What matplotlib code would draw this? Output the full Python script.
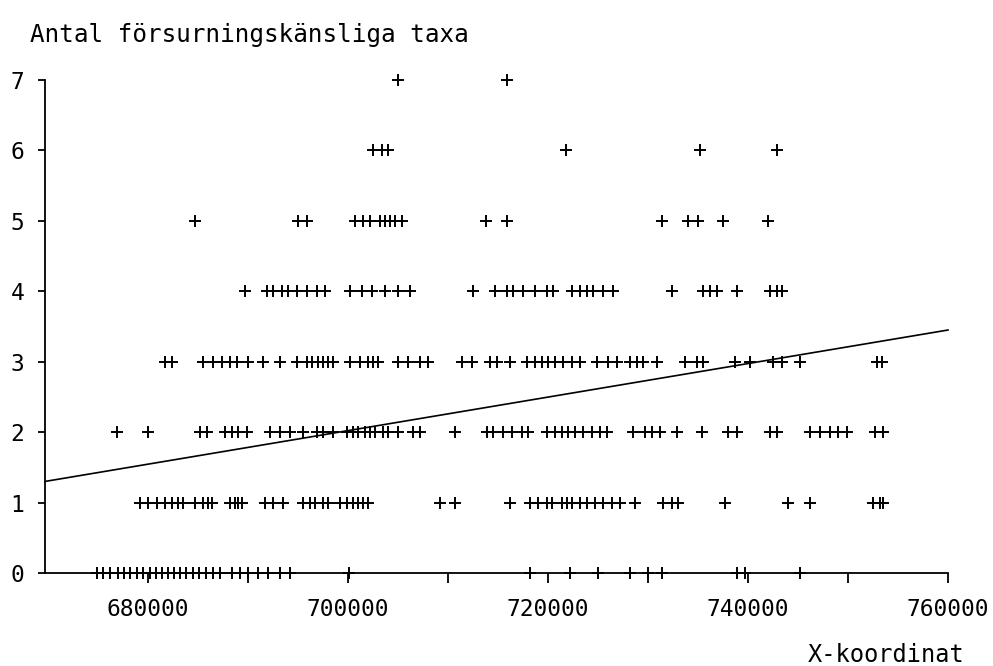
import matplotlib
matplotlib.use("Agg")
import matplotlib.pyplot as plt
import numpy as np

# Data: x-coordinates of sites for each count of acid-sensitive taxa
row0 = [674900, 675500, 676200, 677000, 677600, 678200, 678900, 679500, 680200, 680800,
        681400, 682000, 682600, 683200, 683800, 684500, 685100, 685800, 686500, 687200,
        688400, 689200, 690000, 691000, 692000, 693200, 694200, 700100, 718200, 722200,
        725000, 728200, 730000, 731400, 738900, 739700, 745200]
row1 = [679200, 680000, 680900, 681700, 682400, 683000, 683500, 684700, 685500, 686000,
        686400, 688200, 688700, 689000, 689400, 691700, 692500, 693500, 695500, 696200,
        696700, 697500, 698000, 699200, 699900, 700500, 701000, 701500, 702000, 709200,
        710700, 716200, 718200, 719000, 719900, 720400, 721400, 721900, 722400, 723200,
        723900, 724700, 725500, 726400, 727200, 728700, 731500, 732400, 733000, 737700,
        744000, 746200, 752500, 753200, 753500]
row2 = [676900, 680000, 685200, 685900, 687700, 688400, 689000, 689900, 692200, 693200,
        694200, 695500, 696900, 697500, 698500, 699900, 700500, 701000, 701700, 702200,
        702700, 703500, 704000, 705000, 706500, 707200, 710700, 713900, 714500, 715500,
        716400, 717400, 718000, 719900, 720700, 721400, 722000, 722700, 723500, 724400,
        725200, 725900, 728500, 729700, 730400, 731200, 732900, 735400, 738000, 738900,
        742200, 742900, 746200, 747200, 748200, 749000, 749900, 752700, 753500]
row3 = [681700, 682400, 685500, 686500, 687400, 688200, 688900, 690000, 691500, 693200,
        694900, 695900, 696400, 697000, 697500, 698000, 698500, 700200, 701200, 702000,
        702500, 703000, 705000, 706000, 707200, 708000, 711400, 712400, 714200, 714900,
        716200, 717900, 718700, 719400, 720000, 720700, 721500, 722400, 723200, 724900,
        726000, 726900, 728200, 728900, 729500, 730900, 733700, 734900, 735500, 738700,
        740200, 742500, 743400, 745200, 752900, 753400]
row4 = [689700, 691900, 692500, 693400, 694000, 694900, 695900, 696900, 697700, 700200,
        701400, 702400, 703700, 705000, 706200, 712500, 714700, 715900, 716500, 717500,
        718700, 719900, 720500, 722400, 723200, 723900, 724500, 725500, 726500, 732400,
        735500, 736200, 736900, 738900, 742200, 742900, 743400]
row5 = [684700, 695000, 695900, 700700, 701500, 702200, 703200, 703700, 704200, 704700,
        705400, 713800, 715900, 731400, 734000, 735000, 737500, 742000]
row6 = [702500, 703400, 704000, 721800, 735200, 742900]
row7 = [705000, 715900]
rows = [row0, row1, row2, row3, row4, row5, row6, row7]

# Regression line end points
fit_x = [669700, 760000]
fit_y = [1.30, 3.45]

x_ticks = [680000, 700000, 720000, 740000, 760000]
y_ticks = [0, 1, 2, 3, 4, 5, 6, 7]
title_text = "Antal försurningskänsliga taxa"
xlabel_text = "X-koordinat"

FONT = "DejaVu Sans Mono"

fig = plt.figure(figsize=(9.93, 6.66), dpi=100)
ax = fig.add_axes([45 / 993, 1 - 573 / 666, (948 - 45) / 993, (573 - 80) / 666])

for yv, xs in enumerate(rows):
    ax.plot(xs, [yv] * len(xs), linestyle="none", marker="+", color="black",
            markersize=9, markeredgewidth=1.4, clip_on=False, zorder=3)

ax.plot(fit_x, fit_y, color="black", linewidth=1.2, clip_on=False, zorder=2)

ax.set_xlim(669700, 760000)
ax.set_ylim(0, 7)
ax.set_xticks(x_ticks)
ax.set_xticklabels([str(v) for v in x_ticks], family=FONT, fontsize=16.5)
ax.set_xticks([690000, 710000, 730000, 750000], minor=True)
ax.set_yticks(y_ticks)
ax.set_yticklabels([str(v) for v in y_ticks], family=FONT, fontsize=16.5)

for s in ["top", "right"]:
    ax.spines[s].set_visible(False)
for s in ["left", "bottom"]:
    ax.spines[s].set_linewidth(1.3)
    ax.spines[s].set_color("black")

ax.tick_params(axis="y", direction="out", length=5, width=1.3, pad=10)
ax.tick_params(axis="x", which="major", direction="out", length=7, width=1.3, pad=11)
ax.tick_params(axis="x", which="minor", direction="out", length=7, width=1.3)

fig.text(30 / 993, 1 - 35 / 666, title_text, fontsize=17.5, family=FONT, ha="left", va="center")
fig.text(965 / 993, 1 - 655 / 666, xlabel_text, fontsize=17, family=FONT, ha="right", va="center")

fig.savefig("out.png", dpi=100)
